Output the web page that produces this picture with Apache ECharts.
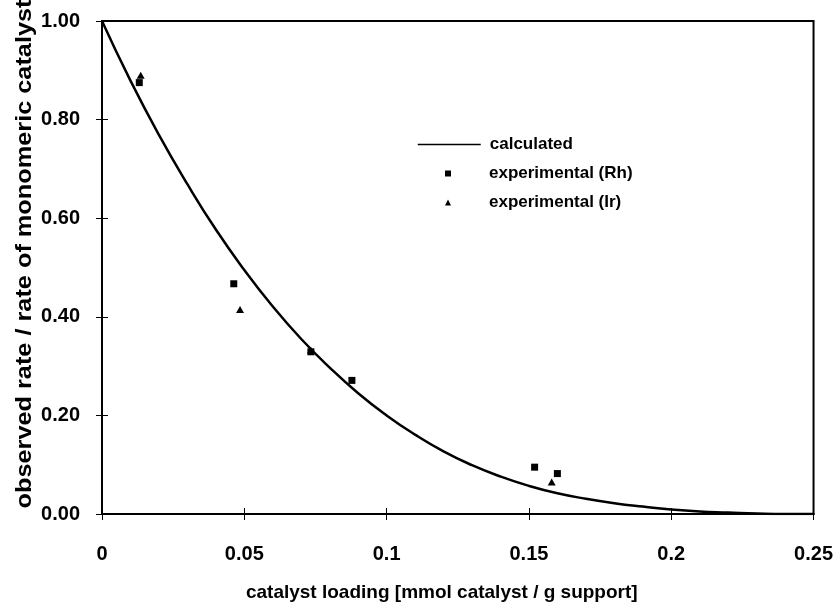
<!DOCTYPE html>
<html>
<head>
<meta charset="utf-8">
<script src="https://cdn.jsdelivr.net/npm/echarts@6/dist/echarts.min.js"></script>
<style>
  html, body { margin: 0; padding: 0; background: #fff; }
  #chart { width: 836px; height: 607px; }
</style>
</head>
<body>
<div id="chart"></div>
<script>
// calculated curve
const calcX = [0, 0.01, 0.02, 0.03, 0.04, 0.05, 0.06, 0.07, 0.08, 0.09, 0.10, 0.11, 0.12, 0.13,
  0.14, 0.15, 0.16, 0.17, 0.18, 0.19, 0.20, 0.21, 0.22, 0.23, 0.24, 0.25]
const calcY = [1.00, 0.879, 0.769, 0.669, 0.577, 0.495, 0.421, 0.355, 0.297, 0.245, 0.20, 0.161, 0.127, 0.099,
  0.076, 0.057, 0.042, 0.031, 0.022, 0.015, 0.009, 0.005, 0.003, 0.001, 0.0, 0.0]

// experimental points
const rhX = [0.0131, 0.0463, 0.0734, 0.0878, 0.152, 0.160]
const rhY = [0.875, 0.467, 0.329, 0.271, 0.095, 0.082]
const irX = [0.0136, 0.0485, 0.0734, 0.158]
const irY = [0.89, 0.415, 0.332, 0.065]

const seriesNames = ['calculated', 'experimental (Rh)', 'experimental (Ir)']
const yAxisName = 'observed rate / rate of monomeric catalyst'
const xAxisName = 'catalyst loading [mmol catalyst / g support]'

const font = '"Liberation Sans", Arial, sans-serif'
const pair = (xs, ys) => xs.map((x, i) => [x, ys[i]])
const legendText = { fontFamily: font, fontWeight: 'bold', fontSize: 17, color: '#000' }

const chart = echarts.init(document.getElementById('chart'))

const baseX = {
  type: 'value', min: 0, max: 0.25, interval: 0.05,
  splitLine: { show: false },
  axisLine: { onZero: false, lineStyle: { color: '#000', width: 2 } }
}
const baseY = {
  type: 'value', min: 0, max: 1, interval: 0.2,
  splitLine: { show: false },
  axisLine: { onZero: false, lineStyle: { color: '#000', width: 2 } }
}

chart.setOption({
  backgroundColor: '#fff',
  animation: false,
  grid: {
    left: 102, right: 21, top: 21, bottom: 86,
    show: true, borderColor: '#000', borderWidth: 2
  },
  // y axis title: the scan stretches it along its length, so draw it as scaled text
  graphic: [{
    type: 'text',
    x: 25, y: 254,
    rotation: Math.PI / 2,
    scaleX: 1.15,
    style: {
      text: yAxisName,
      font: 'bold 22px ' + font,
      fill: '#000',
      align: 'center',
      verticalAlign: 'middle'
    }
  }],
  legend: [
    {
      left: 412, top: 131,
      itemWidth: 63, itemHeight: 14,
      data: [seriesNames[0]],
      itemStyle: { opacity: 0 },
      lineStyle: { width: 1.5 },
      textStyle: Object.assign({ padding: [0, 0, 0, 4] }, legendText)
    },
    {
      left: 440, top: 160,
      itemWidth: 6, itemHeight: 6,
      data: [{ name: seriesNames[1], icon: 'rect' }],
      textStyle: Object.assign({ padding: [0, 0, 0, 33] }, legendText)
    },
    {
      left: 440, top: 189,
      itemWidth: 6, itemHeight: 6,
      data: [{ name: seriesNames[2], icon: 'triangle' }],
      textStyle: Object.assign({ padding: [0, 0, 0, 33] }, legendText)
    }
  ],
  xAxis: [
    Object.assign({}, baseX, {
      name: xAxisName,
      nameLocation: 'middle',
      nameGap: 69,
      nameTextStyle: { fontFamily: font, fontWeight: 'bold', fontSize: 19, color: '#000', padding: [0, 32, 0, 0] },
      axisTick: { show: true, inside: false, length: 6, lineStyle: { color: '#000', width: 1 } },
      axisLabel: { margin: 30, fontFamily: font, fontWeight: 'bold', fontSize: 20, color: '#000' }
    }),
    Object.assign({}, baseX, {
      position: 'bottom',
      axisTick: { show: true, inside: true, length: 6, lineStyle: { color: '#000', width: 1 } },
      axisLabel: { show: false }
    })
  ],
  yAxis: [
    Object.assign({}, baseY, {
      axisTick: { show: true, inside: false, length: 6, lineStyle: { color: '#000', width: 1 } },
      axisLabel: {
        margin: 22, fontFamily: font, fontWeight: 'bold', fontSize: 20, color: '#000',
        formatter: v => v.toFixed(2)
      }
    }),
    Object.assign({}, baseY, {
      position: 'left',
      axisTick: { show: true, inside: true, length: 6, lineStyle: { color: '#000', width: 1 } },
      axisLabel: { show: false }
    })
  ],
  series: [
    {
      name: seriesNames[0],
      type: 'line',
      data: pair(calcX, calcY),
      smooth: true,
      symbol: 'none',
      lineStyle: { color: '#000', width: 2.5 },
      itemStyle: { color: '#000' },
      z: 3
    },
    {
      name: seriesNames[1],
      type: 'scatter',
      data: pair(rhX, rhY),
      symbol: 'rect',
      symbolSize: 7,
      itemStyle: { color: '#000', opacity: 1 },
      z: 4
    },
    {
      name: seriesNames[2],
      type: 'scatter',
      data: pair(irX, irY),
      symbol: 'triangle',
      symbolSize: [8, 7],
      itemStyle: { color: '#000', opacity: 1 },
      z: 4
    }
  ]
})
</script>
</body>
</html>
